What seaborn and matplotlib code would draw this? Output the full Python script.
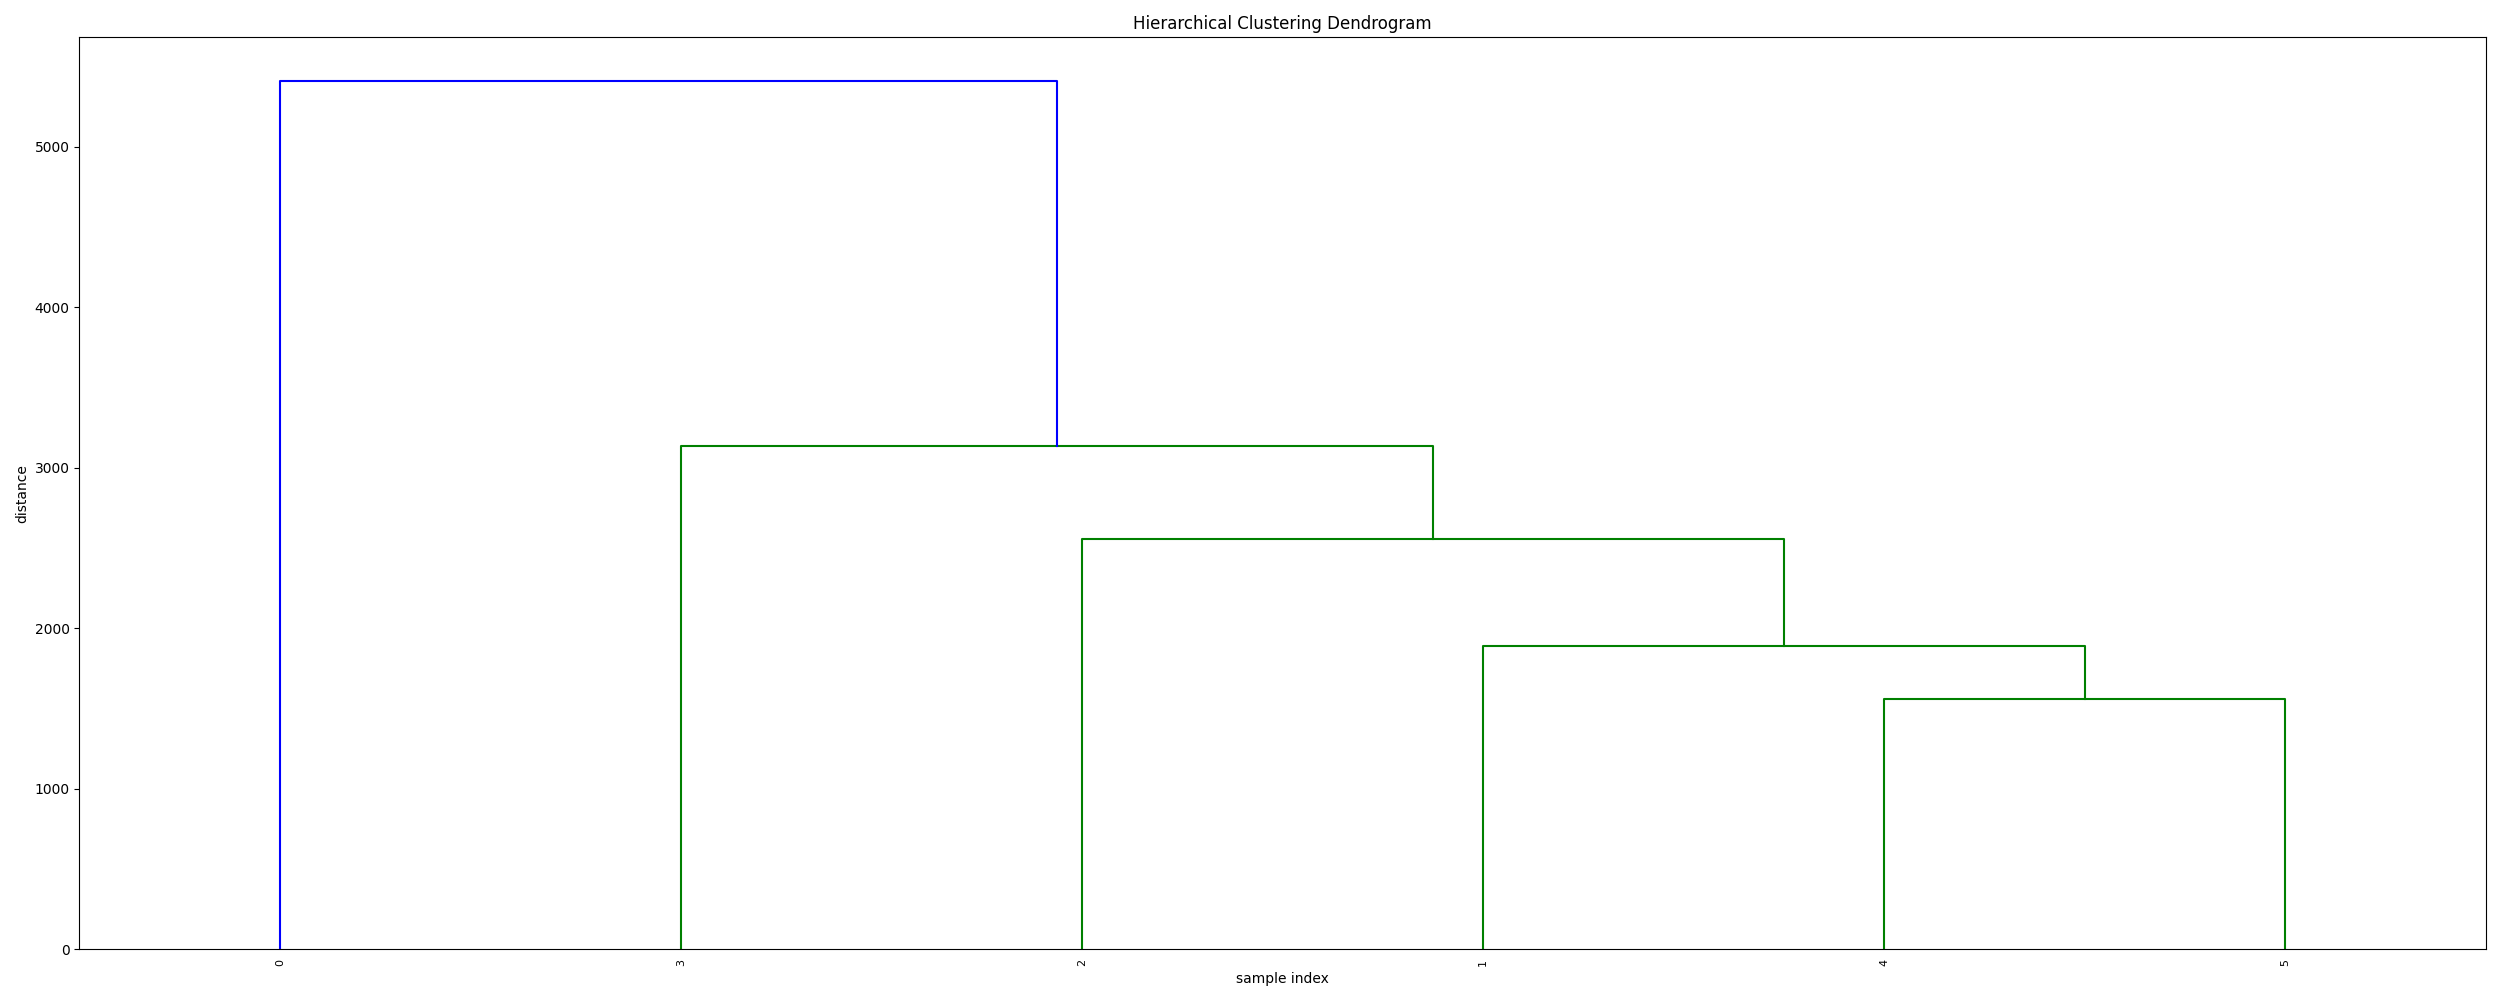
import pandas as pd
import matplotlib
matplotlib.use('Agg')
import matplotlib.pyplot as plt
import seaborn as sns


# linkage table: merge i joins `left` and `right`
# (ids >= 6 are earlier merges, as in scipy), at height `dist`
leaf_names = ['0', '1', '2', '3', '4', '5']
left = [4, 1, 2, 3, 0]
right = [5, 6, 7, 8, 9]
dist = [1557, 1887, 2556, 3136, 5411]

n = len(leaf_names)
color_threshold = 0.7 * max(dist)


def leaves_of(node):
    if node < n:
        return [node]
    k = node - n
    return leaves_of(left[k]) + leaves_of(right[k])


# leaf order left to right, scipy style positions 5, 15, 25 ...
order = leaves_of(n + len(dist) - 1)
xpos = {leaf: 5 + 10 * i for i, leaf in enumerate(order)}
ypos = {leaf: 0.0 for leaf in order}

rows = []
for k in range(len(dist)):
    a, b, h = left[k], right[k], dist[k]
    col = 'g' if h < color_threshold else 'b'
    xs = [xpos[a], xpos[a], xpos[b], xpos[b]]
    ys = [ypos[a], h, h, ypos[b]]
    for step, (x, y) in enumerate(zip(xs, ys)):
        rows.append({'link': k, 'step': step, 'x': x, 'y': y, 'color': col})
    xpos[n + k] = (xpos[a] + xpos[b]) / 2.0
    ypos[n + k] = h
d = pd.DataFrame(rows)

fig, ax = plt.subplots(figsize=(25, 10), dpi=100)
sns.lineplot(data=d, x='x', y='y', units='link', estimator=None, sort=False,
             hue='color', palette={'g': (0, 0.5, 0), 'b': (0, 0, 1)},
             linewidth=1.5, legend=False, ax=ax)

ax.set_xlim(0, 10 * n)
ax.set_ylim(0, max(dist) * 1.05)
ax.set_xticks([5 + 10 * i for i in range(n)])
ax.set_xticklabels([leaf_names[i] for i in order], rotation=90, fontsize=8)
for line in ax.get_xticklines():
    line.set_visible(False)

ax.set_title('Hierarchical Clustering Dendrogram')
ax.set_xlabel('sample index')
ax.set_ylabel('distance')

plt.subplots_adjust(left=0.0317, right=0.9943, bottom=0.0507, top=0.9627)
plt.savefig('out.png')
